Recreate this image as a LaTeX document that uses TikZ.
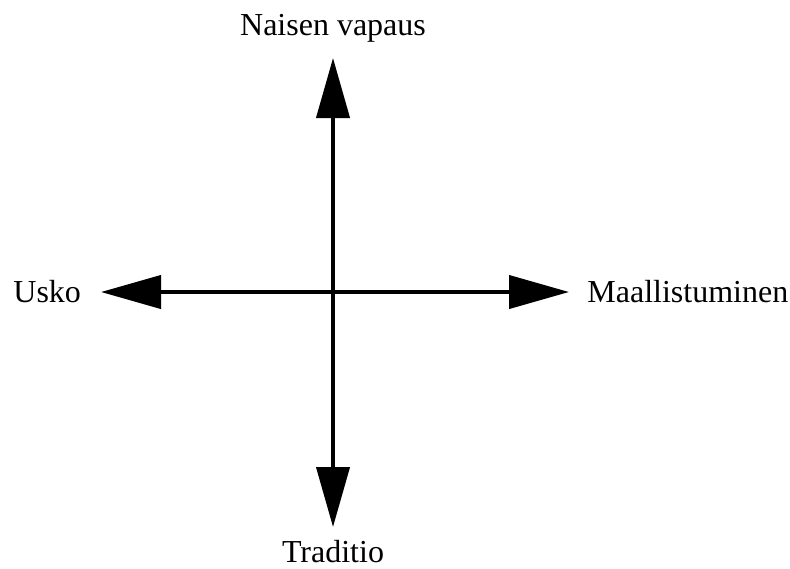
\documentclass[tikz,border=0pt]{standalone}
\usepackage{fontspec}
\setmainfont{Liberation Serif}
\usetikzlibrary{arrows.meta,positioning}

\begin{document}
\begin{tikzpicture}[x=0.5pt,y=-0.5pt]
\tikzset{axislabel/.style = {inner sep=0pt,font=\fontsize{16}{19}\selectfont}}
\tikzset{axis/.style = {line width=2pt,{Triangle[length=30pt,width=16.5pt]}-{Triangle[length=30pt,width=16.5pt]}}}
\useasboundingbox (0,0) rectangle (790,568);
\coordinate (top) at (333,58);
\coordinate (bottom) at (333,527);
\coordinate (left) at (101,292);
\coordinate (right) at (569,292);
\node[axislabel] (vapaus) at (333,28) {Naisen vapaus};
\node[axislabel] (traditio) at (333,552) {Traditio};
\node[axislabel,anchor=west] (usko) at (13,292) {Usko};
\node[axislabel,anchor=west] (maallistuminen) at (587,292) {Maallistuminen};
\draw[axis] (left) -- (right);
\draw[axis] (top) -- (bottom);
\end{tikzpicture}
\end{document}
